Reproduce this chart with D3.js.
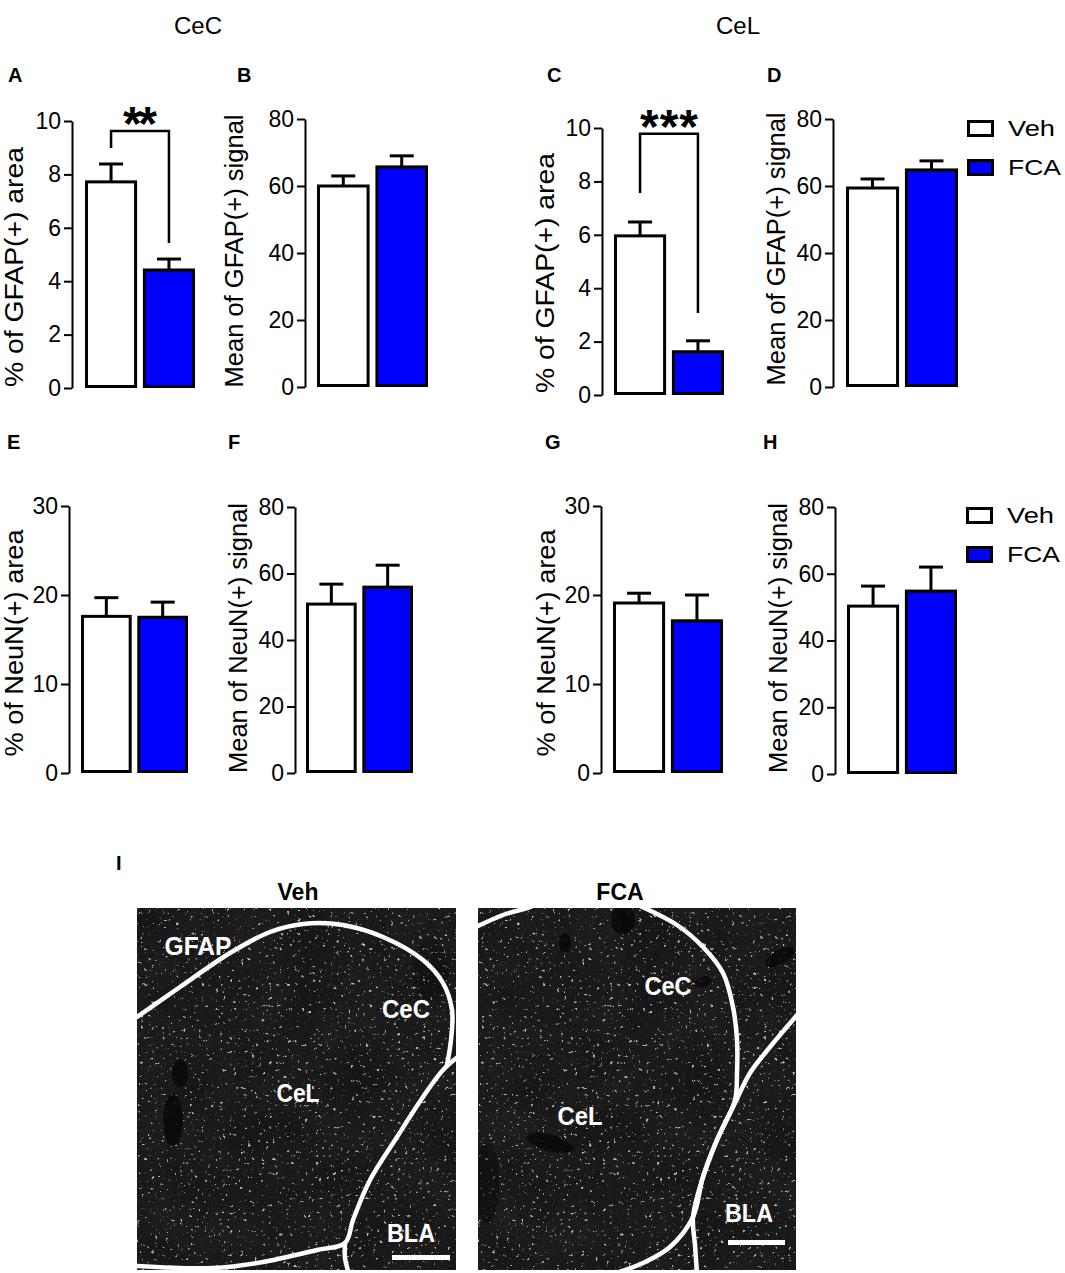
<!DOCTYPE html>
<html>
<head>
<meta charset="utf-8">
<script src="https://cdn.jsdelivr.net/npm/d3@7/dist/d3.min.js"></script>
<style>
  html, body { margin: 0; padding: 0; background: #ffffff; }
  svg { display: block; font-family: "Liberation Sans", Arial, Helvetica, sans-serif; }
</style>
</head>
<body>
<svg id="fig" width="1065" height="1273" viewBox="0 0 1065 1273"></svg>
<script>
// ---------------- DATA ----------------
const groups = ["Veh", "FCA"];
const columnTitles = ["CeC", "CeL"];

// GFAP (top row)
const gfapAreaCeC = [7.72, 4.42];
const gfapAreaCeCSem = [0.67, 0.41];
const gfapSignalCeC = [60.0, 65.7];
const gfapSignalCeCSem = [3.0, 3.3];
const gfapAreaCeL = [5.96, 1.62];
const gfapAreaCeLSem = [0.52, 0.41];
const gfapSignalCeL = [59.4, 64.8];
const gfapSignalCeLSem = [2.7, 2.7];

// NeuN (bottom row)
const neunAreaCeC = [17.6, 17.5];
const neunAreaCeCSem = [2.1, 1.7];
const neunSignalCeC = [50.8, 55.9];
const neunSignalCeCSem = [6.0, 6.6];
const neunAreaCeL = [19.1, 17.1];
const neunAreaCeLSem = [1.1, 2.9];
const neunSignalCeL = [50.3, 54.8];
const neunSignalCeLSem = [6.0, 7.2];

// tick labels
const gfapAreaTicks = [0, 2, 4, 6, 8, 10];
const signalTicks = [0, 20, 40, 60, 80];
const neunAreaTicks = [0, 10, 20, 30];

// significance brackets (data units: top, left end, right end)
const bracketCeC = [9.63, 8.99, 5.43];
const bracketCeL = [9.78, 7.57, 3.07];
const sigCeC = "**";
const sigCeL = "***";

// micrograph labels
const imageTitles = ["Veh", "FCA"];

// ---------------- LAYOUT ----------------
const colors = { Veh: "#ffffff", FCA: "#0000ff" };
const svg = d3.select("#fig");

const panels = [
  { letter: "A", vals: gfapAreaCeC, sem: gfapAreaCeCSem, ticks: gfapAreaTicks, max: 10,
    title: "% of GFAP(+) area", ax: 72, top: 121, bot: 388, x0: 85, x1: 195,
    lx: 8, ly: 82, tx: 23, ty: 267, tlen: 240, bracket: bracketCeC, sig: sigCeC, sigLen: 34 },
  { letter: "B", vals: gfapSignalCeC, sem: gfapSignalCeCSem, ticks: signalTicks, max: 80,
    title: "Mean of GFAP(+) signal", ax: 305, top: 119, bot: 387, x0: 317, x1: 428,
    lx: 237, ly: 82, tx: 243, ty: 251, tlen: 273 },
  { letter: "C", vals: gfapAreaCeL, sem: gfapAreaCeLSem, ticks: gfapAreaTicks, max: 10,
    title: "% of GFAP(+) area", ax: 602, top: 128, bot: 395, x0: 614, x1: 724,
    lx: 547, ly: 82, tx: 554, ty: 273, tlen: 240, bracket: bracketCeL, sig: sigCeL, sigLen: 58 },
  { letter: "D", vals: gfapSignalCeL, sem: gfapSignalCeLSem, ticks: signalTicks, max: 80,
    title: "Mean of GFAP(+) signal", ax: 833, top: 119, bot: 387, x0: 846, x1: 958,
    lx: 767, ly: 82, tx: 785, ty: 249, tlen: 273, legend: { x: 967, y: 120 } },
  { letter: "E", vals: neunAreaCeC, sem: neunAreaCeCSem, ticks: neunAreaTicks, max: 30,
    title: "% of NeuN(+) area", ax: 69, top: 506, bot: 773, x0: 81, x1: 188,
    lx: 7, ly: 449, tx: 23, ty: 643, tlen: 227 },
  { letter: "F", vals: neunSignalCeC, sem: neunSignalCeCSem, ticks: signalTicks, max: 80,
    title: "Mean of NeuN(+) signal", ax: 295, top: 507, bot: 773, x0: 306, x1: 413,
    lx: 228, ly: 449, tx: 247, ty: 638, tlen: 270 },
  { letter: "G", vals: neunAreaCeL, sem: neunAreaCeLSem, ticks: neunAreaTicks, max: 30,
    title: "% of NeuN(+) area", ax: 601, top: 506, bot: 773, x0: 613, x1: 723,
    lx: 545, ly: 449, tx: 555, ty: 643, tlen: 227 },
  { letter: "H", vals: neunSignalCeL, sem: neunSignalCeLSem, ticks: signalTicks, max: 80,
    title: "Mean of NeuN(+) signal", ax: 835, top: 507, bot: 774, x0: 847, x1: 957,
    lx: 763, ly: 449, tx: 787, ty: 638, tlen: 270, legend: { x: 966, y: 507 } }
];

// column headers
svg.append("text").attr("x", 198).attr("y", 34).attr("text-anchor", "middle")
  .attr("font-size", 24).attr("fill", "#000").text(columnTitles[0]);
svg.append("text").attr("x", 738).attr("y", 34).attr("text-anchor", "middle")
  .attr("font-size", 24).attr("fill", "#000").text(columnTitles[1]);

panels.forEach(p => {
  const g = svg.append("g");
  const y = d3.scaleLinear().domain([0, p.max]).range([p.bot, p.top]);
  const x = d3.scaleBand().domain(groups).range([p.x0, p.x1]).paddingInner(0.1).paddingOuter(0);

  // panel letter
  g.append("text").attr("x", p.lx).attr("y", p.ly).attr("font-size", 20)
    .attr("font-weight", "bold").text(p.letter);

  // axis
  const axis = d3.axisLeft(y).tickValues(p.ticks).tickSize(8).tickSizeOuter(0).tickPadding(3);
  const ag = g.append("g").attr("transform", `translate(${p.ax},0)`).call(axis);
  ag.select(".domain").attr("stroke", "#000").attr("stroke-width", 2);
  ag.selectAll(".tick line").attr("stroke", "#000").attr("stroke-width", 2);
  ag.selectAll(".tick text").attr("font-size", 23).attr("fill", "#000")
    .attr("font-family", "'Liberation Sans', Arial, sans-serif");

  // axis title
  g.append("text")
    .attr("transform", `translate(${p.tx},${p.ty}) rotate(-90)`)
    .attr("text-anchor", "middle").attr("font-size", 25)
    .attr("textLength", p.tlen).attr("lengthAdjust", "spacingAndGlyphs")
    .text(p.title);

  const sw = 3;
  // error bars (upper only)
  groups.forEach((k, i) => {
    const cx = x(k) + x.bandwidth() / 2;
    g.append("line").attr("x1", cx).attr("x2", cx)
      .attr("y1", y(p.vals[i])).attr("y2", y(p.vals[i] + p.sem[i]))
      .attr("stroke", "#000").attr("stroke-width", sw);
    g.append("line").attr("x1", cx - 12).attr("x2", cx + 12)
      .attr("y1", y(p.vals[i] + p.sem[i])).attr("y2", y(p.vals[i] + p.sem[i]))
      .attr("stroke", "#000").attr("stroke-width", sw);
  });

  // bars
  g.selectAll("rect.bar").data(groups).join("rect").attr("class", "bar")
    .attr("x", d => x(d) + sw / 2)
    .attr("width", x.bandwidth() - sw)
    .attr("y", (d, i) => y(p.vals[i]))
    .attr("height", (d, i) => y(0) - y(p.vals[i]) - sw / 2)
    .attr("fill", d => colors[d]).attr("stroke", "#000").attr("stroke-width", sw);

  // significance bracket
  if (p.bracket) {
    const xl = x(groups[0]) + x.bandwidth() / 2;
    const xr = x(groups[1]) + x.bandwidth() / 2;
    const [bt, bl, br] = p.bracket;
    g.append("path")
      .attr("d", `M${xl},${y(bl)}V${y(bt)}H${xr}V${y(br)}`)
      .attr("fill", "none").attr("stroke", "#000").attr("stroke-width", 2.5);
    g.append("text").attr("x", (xl + xr) / 2).attr("y", y(bt) + 9)
      .attr("text-anchor", "middle").attr("font-size", 48).attr("font-weight", "bold")
      .attr("textLength", p.sigLen).attr("lengthAdjust", "spacing")
      .text(p.sig);
  }

  // legend
  if (p.legend) {
    groups.forEach((k, i) => {
      const ly = p.legend.y + i * 39;
      g.append("rect").attr("x", p.legend.x + 1.5).attr("y", ly + 1.5)
        .attr("width", 24).attr("height", 14)
        .attr("fill", colors[k]).attr("stroke", "#000").attr("stroke-width", 3);
      g.append("text").attr("x", p.legend.x + 41).attr("y", ly + 16)
        .attr("font-size", 22).attr("textLength", i === 0 ? 47 : 53)
        .attr("lengthAdjust", "spacingAndGlyphs").text(k);
    });
  }
});

// ---------------- PANEL I (micrograph sketch) ----------------
svg.append("text").attr("x", 116).attr("y", 870).attr("font-size", 20)
  .attr("font-weight", "bold").text("I");

const defs = svg.append("defs");
const f = defs.append("filter").attr("id", "speck")
  .attr("x", 0).attr("y", 0).attr("width", 1).attr("height", 1);
f.append("feTurbulence").attr("type", "fractalNoise").attr("baseFrequency", "0.28")
  .attr("numOctaves", 3).attr("seed", 11).attr("result", "n");
f.append("feColorMatrix").attr("in", "n").attr("type", "matrix")
  .attr("values", "0 0 0 0 0.95  0 0 0 0 0.95  0 0 0 0 0.95  10 0 0 0 -6.9");
const f2 = defs.append("filter").attr("id", "mottle")
  .attr("x", 0).attr("y", 0).attr("width", 1).attr("height", 1);
f2.append("feTurbulence").attr("type", "fractalNoise").attr("baseFrequency", "0.02")
  .attr("numOctaves", 2).attr("seed", 4).attr("result", "m");
f2.append("feColorMatrix").attr("in", "m").attr("type", "matrix")
  .attr("values", "0 0 0 0 0  0 0 0 0 0  0 0 0 0 0  0.9 0 0 0 -0.2");
const f3 = defs.append("filter").attr("id", "fine")
  .attr("x", 0).attr("y", 0).attr("width", 1).attr("height", 1);
f3.append("feTurbulence").attr("type", "fractalNoise").attr("baseFrequency", "0.7")
  .attr("numOctaves", 1).attr("seed", 2).attr("result", "q");
f3.append("feColorMatrix").attr("in", "q").attr("type", "matrix")
  .attr("values", "0 0 0 0 0.8  0 0 0 0 0.8  0 0 0 0 0.8  6 0 0 0 -3.9");

const images = [
  { title: imageTitles[0], x: 137, y: 908, w: 319, h: 362, tx: 298,
    outlines: [
      [[0,109],[43,79],[93,45],[133,24],[166,16],[206,17],[246,29],[286,52],[306,75],[315,102],[314,132],[310,157]],
      [[322,148],[306,162],[286,189],[260,229],[233,272],[216,312],[208,335],[180,342],[126,354],[76,360],[0,358]],
      [[208,335],[208,350],[212,366]]
    ],
    blobs: [[43,165,8,14,0,0.85],[36,212,10,26,0,0.85],[293,62,18,30,0,0.3]],
    labels: [["GFAP",61,47,67],["CeC",269,110,48],["CeL",161,194,43],["BLA",274,334,48]],
    bar: [255, 347, 58] },
  { title: imageTitles[1], x: 478, y: 908, w: 318, h: 362, tx: 620,
    outlines: [
      [[-2,19],[25,7],[49,0],[57,-3]],
      [[162,-2],[199,17],[225,39],[245,65],[255,99],[259,132],[259,165],[257,192],[239,232],[225,269],[215,309],[192,339],[165,355],[135,366]],
      [[320,106],[292,139],[272,165],[257,195],[239,232],[225,269],[215,309],[217,337],[219,366]]
    ],
    blobs: [[145,12,12,15,0,0.85],[87,35,6,10,0,0.85],[302,49,16,7,-30,0.85],[225,74,9,5,-20,0.85],[72,235,24,8,15,0.85],[9,275,12,40,0,0.5]],
    labels: [["CeC",190,87,47],["CeL",102,217,45],["BLA",271,314,48]],
    bar: [250, 332, 57] }
];

images.forEach((im, k) => {
  const clipId = "clip" + k;
  defs.append("clipPath").attr("id", clipId)
    .append("rect").attr("x", 0).attr("y", 0).attr("width", im.w).attr("height", im.h);
  const g = svg.append("g").attr("transform", `translate(${im.x},${im.y})`);
  svg.append("text").attr("x", im.tx).attr("y", 900).attr("text-anchor", "middle")
    .attr("font-size", 23).attr("font-weight", "bold").text(im.title);

  const c = g.append("g").attr("clip-path", `url(#${clipId})`);
  c.append("rect").attr("width", im.w).attr("height", im.h).attr("fill", "#1d1d1d");
  c.append("rect").attr("width", im.w).attr("height", im.h).attr("fill", "#000")
    .attr("filter", "url(#mottle)").attr("opacity", 0.45);
  c.append("rect").attr("width", im.w).attr("height", im.h).attr("fill", "#fff")
    .attr("filter", "url(#fine)").attr("opacity", 0.18);
  c.append("rect").attr("width", im.w).attr("height", im.h).attr("fill", "#fff")
    .attr("filter", "url(#speck)").attr("opacity", 0.7);
  im.blobs.forEach(b => {
    c.append("ellipse").attr("cx", b[0]).attr("cy", b[1]).attr("rx", b[2]).attr("ry", b[3])
      .attr("transform", `rotate(${b[4]},${b[0]},${b[1]})`)
      .attr("fill", "#080808").attr("opacity", b[5]);
  });
  const line = d3.line().curve(d3.curveCatmullRom.alpha(0.5));
  im.outlines.forEach(pts => {
    c.append("path").attr("d", line(pts)).attr("fill", "none")
      .attr("stroke", "#fff").attr("stroke-width", 4.5).attr("stroke-linecap", "round");
  });
  im.labels.forEach(l => {
    c.append("text").attr("x", l[1]).attr("y", l[2]).attr("text-anchor", "middle")
      .attr("font-size", 25).attr("font-weight", "bold").attr("fill", "#fff")
      .attr("textLength", l[3]).attr("lengthAdjust", "spacingAndGlyphs").text(l[0]);
  });
  c.append("rect").attr("x", im.bar[0]).attr("y", im.bar[1]).attr("width", im.bar[2])
    .attr("height", 5).attr("fill", "#fff");
});
</script>
</body>
</html>
